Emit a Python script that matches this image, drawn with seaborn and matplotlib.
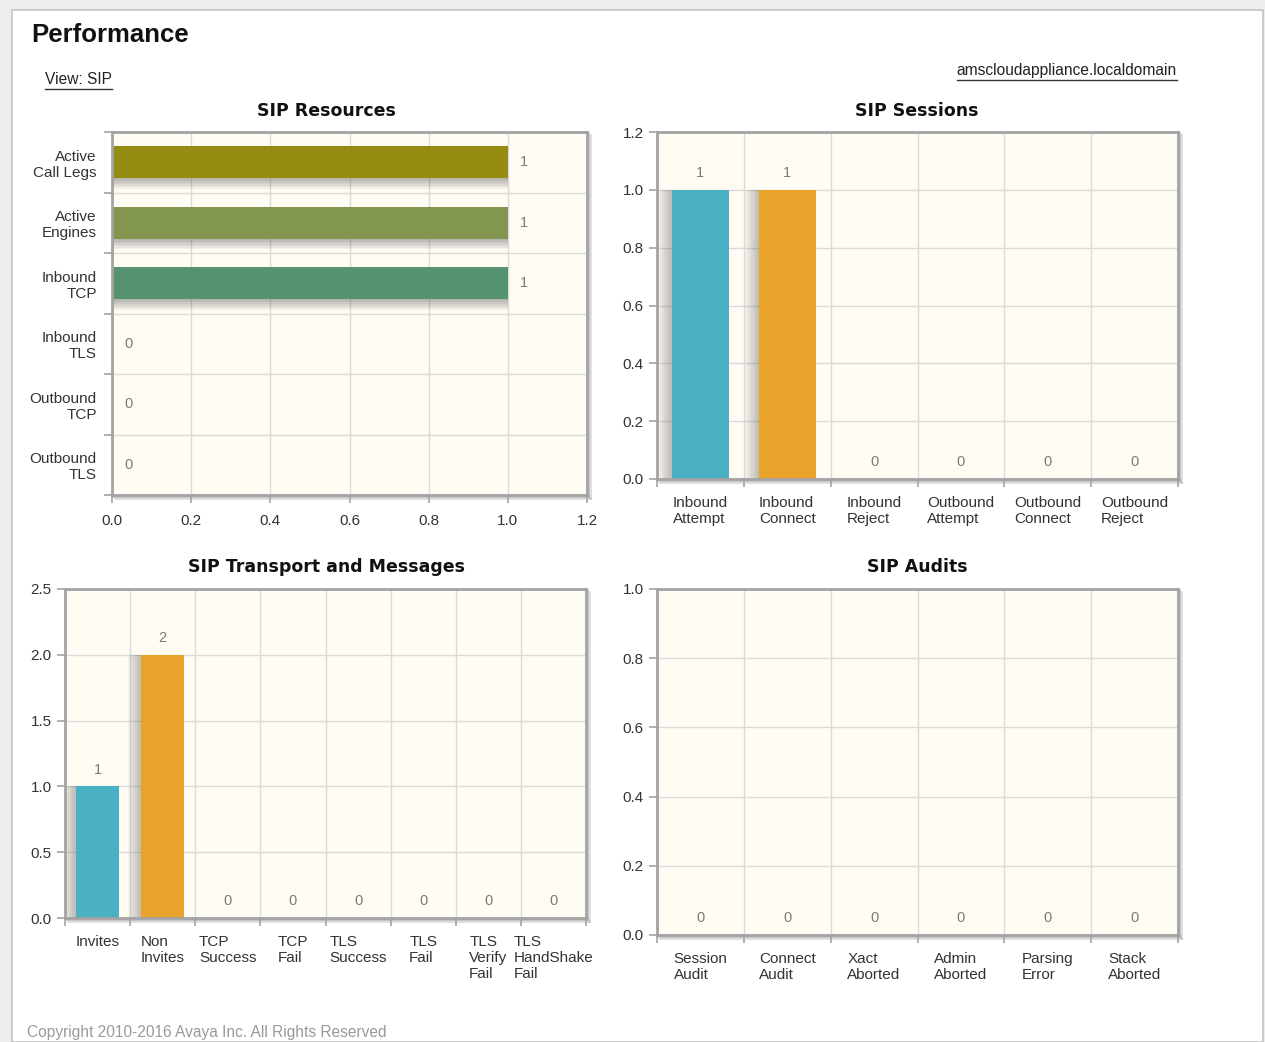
import matplotlib
matplotlib.use('Agg')
import matplotlib.pyplot as plt
import matplotlib.patheffects as pe
from matplotlib.patches import Rectangle
from matplotlib.lines import Line2D
import numpy as np
import seaborn as sns

resource_labels = ['Active\nCall Legs', 'Active\nEngines', 'Inbound\nTCP',
                   'Inbound\nTLS', 'Outbound\nTCP', 'Outbound\nTLS']
resource_values = [1, 1, 1, 0, 0, 0]
resource_colors = ['#958c12', '#82964f', '#559370', '#4ab1c5', '#e9a22a', '#7d5c9d']

session_labels = ['Inbound\nAttempt', 'Inbound\nConnect', 'Inbound\nReject',
                  'Outbound\nAttempt', 'Outbound\nConnect', 'Outbound\nReject']
session_values = [1, 1, 0, 0, 0, 0]

transport_labels = ['Invites', 'Non\nInvites', 'TCP\nSuccess', 'TCP\nFail',
                    'TLS\nSuccess', 'TLS\nFail', 'TLS\nVerify\nFail', 'TLS\nHandShake\nFail']
transport_values = [1, 2, 0, 0, 0, 0, 0, 0]

audit_labels = ['Session\nAudit', 'Connect\nAudit', 'Xact\nAborted',
                'Admin\nAborted', 'Parsing\nError', 'Stack\nAborted']
audit_values = [0, 0, 0, 0, 0, 0]

column_colors = ['#4ab1c5', '#e9a22a', '#958c12', '#82964f', '#559370',
                 '#7d5c9d', '#c0504d', '#4f81bd']

W, H = 1265, 1042
FONT = 'Liberation Sans'
plt.rcParams['font.family'] = [FONT, 'DejaVu Sans']

fig = plt.figure(figsize=(W / 100, H / 100), dpi=100)
fig.patch.set_facecolor('#ededed')
fig.add_artist(Rectangle((12 / W, 0), (1263 - 12) / W, (H - 10) / H,
                         transform=fig.transFigure, facecolor='white',
                         edgecolor='#c4c4c4', linewidth=1.2, zorder=0))


def px(x0, y0, x1, y1):
    return [x0 / W, 1 - y1 / H, (x1 - x0) / W, (y1 - y0) / H]


def soft_shadow(dx, dy, steps=7, alpha=0.07):
    # stacked faint copies give a blurred, fading shadow
    effects = [pe.SimplePatchShadow(offset=(dx * k, dy * k), shadow_rgbFace='#555555',
                                    alpha=alpha) for k in range(1, steps + 1)]
    return effects + [pe.Normal()]


def frame(ax):
    ax.set_facecolor('#fffcf4')
    ax.set_axisbelow(True)
    for name, sp in ax.spines.items():
        sp.set_color('#a3a3a3')
        sp.set_linewidth(2)
        if name in ('right', 'bottom'):
            sp.set_path_effects([pe.SimpleLineShadow(offset=(2, -2), shadow_color='#aaaaaa',
                                                     alpha=0.4),
                                 pe.SimpleLineShadow(offset=(1, -1), shadow_color='#999999',
                                                     alpha=0.4), pe.Normal()])
    ax.tick_params(which='both', color='#a3a3a3', width=1.2, labelsize=11,
                   labelcolor='#333333')
    ax.tick_params(which='major', length=6)
    ax.set_xlabel('')
    ax.set_ylabel('')


def value_labels(ax, pad):
    for c in ax.containers:
        ax.bar_label(c, fmt='%g', padding=pad, color='#7a7a7a', fontsize=10.5)


def column_chart(rect, labels, values, ymax, step, fmt):
    ax = fig.add_axes(rect)
    n = len(labels)
    sns.barplot(x=labels, y=values, hue=labels, palette=column_colors[:n],
                legend=False, width=0.66, linewidth=0, saturation=1, ax=ax)
    for p in ax.patches:
        p.set_path_effects(soft_shadow(-1.4, 0, steps=7, alpha=0.06))
    frame(ax)
    ax.set_xlim(-0.5, n - 0.5)
    ax.set_ylim(0, ymax)
    ax.set_yticks(np.arange(0, ymax + step / 2, step))
    ax.set_yticklabels([fmt % v for v in np.arange(0, ymax + step / 2, step)])
    ax.set_xticks(range(n))
    ax.set_xticklabels(labels, ha='center', multialignment='left', linespacing=1.2)
    ax.tick_params(axis='x', which='major', length=0, pad=12)
    ax.set_xticks(np.arange(-0.5, n), minor=True)
    ax.tick_params(axis='x', which='minor', length=6)
    ax.grid(axis='y', which='major', color='#dadada', linewidth=1)
    ax.grid(axis='x', which='minor', color='#dadada', linewidth=1)
    value_labels(ax, 7)
    return ax


# SIP Resources (horizontal)
ax = fig.add_axes(px(112, 132, 587, 495))
sns.barplot(x=resource_values, y=resource_labels, hue=resource_labels,
            palette=resource_colors, legend=False, width=0.53, linewidth=0,
            saturation=1, orient='h', ax=ax)
for p in ax.patches:
    p.set_path_effects(soft_shadow(0, -1.1, steps=7, alpha=0.07))
frame(ax)
ax.set_xlim(0, 1.2)
ax.set_xticks(np.arange(0, 1.21, 0.2))
ax.set_xticklabels(['%.1f' % v for v in np.arange(0, 1.21, 0.2)])
ax.tick_params(axis='x', which='major', pad=8)
ax.set_ylim(len(resource_labels) - 0.5, -0.5)
ax.set_yticks(range(len(resource_labels)))
ax.set_yticklabels(resource_labels, linespacing=1.2)
ax.tick_params(axis='y', which='major', length=0, pad=11)
ax.set_yticks(np.arange(-0.5, len(resource_labels)), minor=True)
ax.tick_params(axis='y', which='minor', length=6)
ax.grid(axis='x', which='major', color='#dadada', linewidth=1)
ax.grid(axis='y', which='minor', color='#dadada', linewidth=1)
value_labels(ax, 9)

column_chart(px(657, 132, 1178, 479), session_labels, session_values, 1.2, 0.2, '%.1f')
column_chart(px(65, 589, 586, 918), transport_labels, transport_values, 2.5, 0.5, '%.1f')
column_chart(px(657, 589, 1178, 935), audit_labels, audit_values, 1.0, 0.2, '%.1f')

# page texts
title_kw = dict(family='DejaVu Sans', fontweight='bold', fontsize=12.5, color='#111111',
                ha='center', va='center')
fig.text(326 / W, 1 - 111 / H, 'SIP Resources', **title_kw)
fig.text(917 / W, 1 - 111 / H, 'SIP Sessions', **title_kw)
fig.text(326 / W, 1 - 567 / H, 'SIP Transport and Messages', **title_kw)
fig.text(917 / W, 1 - 567 / H, 'SIP Audits', **title_kw)

fig.text(31 / W, 1 - 35 / H, 'Performance', fontsize=18.5, fontweight='bold',
         color='#111111', va='center', ha='left')
links = [
    fig.text(45 / W, 1 - 80 / H, 'View: SIP', fontsize=11.2, color='#222222',
             va='center', ha='left'),
    fig.text(1177 / W, 1 - 71 / H, 'amscloudappliance.localdomain', fontsize=11.2,
             color='#222222', va='center', ha='right'),
]
fig.text(27 / W, 1 - 1032 / H, 'Copyright 2010-2016 Avaya Inc. All Rights Reserved',
         fontsize=11.2, color='#9a9a9a', va='center', ha='left')

# underline the link texts
renderer = fig.canvas.get_renderer()
for t in links:
    bb = t.get_window_extent(renderer).transformed(fig.transFigure.inverted())
    y = bb.y0 - 1.5 / H
    fig.add_artist(Line2D([bb.x0, bb.x1], [y, y], color='#333333', lw=1))

fig.savefig('out.png', dpi=100, facecolor=fig.get_facecolor())
